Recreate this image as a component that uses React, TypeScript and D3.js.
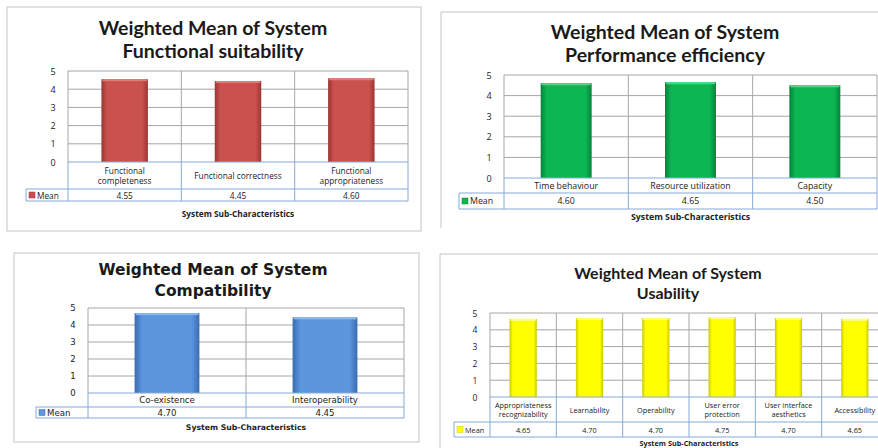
import React from "react";
import * as d3 from "d3";

const W = 878;
const H = 448;

// data
const funcCategories = ["Functional\ncompleteness", "Functional correctness", "Functional\nappropriateness"];
const funcValues = [4.55, 4.45, 4.6];
const funcLabels = ["4.55", "4.45", "4.60"];

const perfCategories = ["Time behaviour", "Resource utilization", "Capacity"];
const perfValues = [4.6, 4.65, 4.5];
const perfLabels = ["4.60", "4.65", "4.50"];

const compCategories = ["Co-existence", "Interoperability"];
const compValues = [4.7, 4.45];
const compLabels = ["4.70", "4.45"];

const usabCategories = [
  "Appropriateness\nrecognizability",
  "Learnability",
  "Operability",
  "User error\nprotection",
  "User interface\naesthetics",
  "Accessibility"
];
const usabValues = [4.65, 4.7, 4.7, 4.75, 4.7, 4.65];
const usabLabels = ["4.65", "4.70", "4.70", "4.75", "4.70", "4.65"];

const yTicks = [0, 1, 2, 3, 4, 5];

const TITLE_FONT = "Lato, 'Open Sans', sans-serif";
const FONT = "'Open Sans', Lato, sans-serif";
const WIDE_FONT = "'DejaVu Sans', 'Open Sans', sans-serif";
const tableBlue = "#86aad8";
const gridGray = "#a6a6a6";

type PanelProps = {
  id: string;
  frame: { x: number; y: number; w: number; h: number; full: boolean };
  title: string[];
  titleX: number;
  titleY: number[];
  titleSize: number;
  titleFont?: string;
  textFont?: string;
  plot: { l: number; r: number; t: number; b: number };
  catRowB: number;
  meanRowB: number;
  legendL: number;
  subY: number;
  catFont: number;
  tickFont: number;
  categories: string[];
  values: number[];
  labels: string[];
  color: string;
  dark: string;
  light: string;
};

function Panel(p: PanelProps) {
  const { plot } = p;
  const font = p.textFont || FONT;
  const x = d3.scaleBand<string>().domain(p.categories).range([plot.l, plot.r]);
  const y = d3.scaleLinear().domain([0, 5]).range([plot.b, plot.t]);
  const bw = x.bandwidth() * 0.41;
  const catMid = (plot.b + p.catRowB) / 2;
  const meanMid = (p.catRowB + p.meanRowB) / 2;
  const bounds = p.categories.map(c => x(c) as number).concat([plot.r]);

  return (
    <g>
      <defs>
        <linearGradient id={`g-${p.id}`} x1="0" x2="1" y1="0" y2="0">
          <stop offset="0" stopColor={p.dark} />
          <stop offset="0.12" stopColor={p.color} />
          <stop offset="0.88" stopColor={p.color} />
          <stop offset="1" stopColor={p.dark} />
        </linearGradient>
      </defs>
      {p.frame.full ? (
        <rect x={p.frame.x} y={p.frame.y} width={p.frame.w} height={p.frame.h} fill="#fff" stroke="#c4c4c4" />
      ) : (
        <path
          d={`M${p.frame.x},${p.frame.y + p.frame.h}V${p.frame.y}H${W + 5}`}
          fill="none"
          stroke="#c4c4c4"
        />
      )}
      {p.title.map((t, i) => (
        <text
          key={t}
          x={p.titleX}
          y={p.titleY[i]}
          textAnchor="middle"
          dominantBaseline="central"
          fontFamily={p.titleFont || TITLE_FONT}
          fontWeight="bold"
          fontSize={p.titleSize}
          fill="#1a1a1a"
        >
          {t}
        </text>
      ))}
      {/* grid */}
      {yTicks.slice(1).map(t => (
        <line key={t} x1={plot.l} x2={plot.r} y1={y(t)} y2={y(t)} stroke={gridGray} />
      ))}
      {bounds.map((b, i) => (
        <line key={i} x1={b} x2={b} y1={plot.t} y2={plot.b} stroke={gridGray} />
      ))}
      {yTicks.map(t => (
        <text
          key={t}
          x={plot.l - 15}
          y={y(t)}
          textAnchor="middle"
          dominantBaseline="central"
          fontFamily={font}
          fontSize={p.tickFont}
          fill="#222"
        >
          {t}
        </text>
      ))}
      {/* bars */}
      {p.categories.map((c, i) => {
        const bx = (x(c) as number) + (x.bandwidth() - bw) / 2;
        const by = y(p.values[i]);
        return (
          <g key={c}>
            <rect x={bx} y={by} width={bw} height={plot.b - by} fill={`url(#g-${p.id})`} />
            <rect x={bx + 1} y={by} width={bw - 2} height={2} fill={p.light} />
          </g>
        );
      })}
      {/* data table */}
      <line x1={plot.l} x2={plot.r} y1={plot.b} y2={plot.b} stroke={tableBlue} />
      <line x1={p.legendL} x2={plot.r} y1={p.catRowB} y2={p.catRowB} stroke={tableBlue} />
      <line x1={p.legendL} x2={plot.r} y1={p.meanRowB} y2={p.meanRowB} stroke={tableBlue} />
      <line x1={p.legendL} x2={p.legendL} y1={p.catRowB} y2={p.meanRowB} stroke={tableBlue} />
      {bounds.map((b, i) => (
        <line key={i} x1={b} x2={b} y1={plot.b} y2={p.meanRowB} stroke={tableBlue} />
      ))}
      <rect x={p.legendL + 3} y={meanMid - 3} width={6} height={6} fill={p.color} stroke={p.dark} strokeWidth={0.5} />
      <text
        x={p.legendL + 11}
        y={meanMid}
        dominantBaseline="central"
        fontFamily={font}
        fontSize={p.catFont}
        fill="#222"
      >
        Mean
      </text>
      {p.categories.map((c, i) => {
        const cx = (x(c) as number) + x.bandwidth() / 2;
        const lines = c.split("\n");
        const lh = p.catFont * 1.3;
        return (
          <g key={c}>
            {lines.map((ln, j) => (
              <text
                key={j}
                x={cx}
                y={catMid + (j - (lines.length - 1) / 2) * lh}
                textAnchor="middle"
                dominantBaseline="central"
                fontFamily={font}
                fontSize={p.catFont}
                fill="#222"
              >
                {ln}
              </text>
            ))}
            <text
              x={cx}
              y={meanMid}
              textAnchor="middle"
              dominantBaseline="central"
              fontFamily={font}
              fontSize={p.catFont}
              fill="#222"
            >
              {p.labels[i]}
            </text>
          </g>
        );
      })}
      <text
        x={(plot.l + plot.r) / 2}
        y={p.subY}
        textAnchor="middle"
        dominantBaseline="central"
        fontFamily={font}
        fontWeight="bold"
        fontSize={p.catFont * (p.textFont ? 0.9 : 1)}
        fill="#222"
      >
        System Sub-Characteristics
      </text>
    </g>
  );
}

export default function App() {
  return (
    <div style={{ position: "absolute", left: 0, top: 0 }}>
      <svg width={W} height={H} style={{ display: "block", background: "#fff" }}>
        <Panel
          id="func"
          frame={{ x: 7, y: 7, w: 414, h: 224, full: true }}
          title={["Weighted Mean of System", "Functional suitability"]}
          titleX={213}
          titleY={[27, 50]}
          titleSize={19.5}
          plot={{ l: 68, r: 408, t: 71, b: 162 }}
          catRowB={189}
          meanRowB={201}
          legendL={26}
          subY={213}
          catFont={8.3}
          tickFont={9}
          categories={funcCategories}
          values={funcValues}
          labels={funcLabels}
          color="#c9514e"
          dark="#9a3532"
          light="#e07c78"
        />
        <Panel
          id="perf"
          frame={{ x: 441, y: 12, w: 440, h: 216, full: false }}
          title={["Weighted Mean of System", "Performance efficiency"]}
          titleX={665}
          titleY={[31, 54]}
          titleSize={19.5}
          plot={{ l: 504, r: 877, t: 75, b: 178 }}
          catRowB={193}
          meanRowB={209}
          legendL={459}
          subY={217}
          catFont={8.8}
          tickFont={9}
          categories={perfCategories}
          values={perfValues}
          labels={perfLabels}
          color="#0bb653"
          dark="#06833b"
          light="#4fd888"
        />
        <Panel
          id="comp"
          frame={{ x: 14, y: 253, w: 405, h: 189, full: true }}
          title={["Weighted Mean of System", "Compatibility"]}
          titleX={213}
          titleY={[270, 291]}
          titleSize={15.5}
          titleFont={WIDE_FONT}
          textFont={WIDE_FONT}
          plot={{ l: 88, r: 404, t: 308, b: 393 }}
          catRowB={407}
          meanRowB={418}
          legendL={36}
          subY={427}
          catFont={8.6}
          tickFont={8.5}
          categories={compCategories}
          values={compValues}
          labels={compLabels}
          color="#5b96de"
          dark="#3a6bb0"
          light="#8ab8ee"
        />
        <Panel
          id="usab"
          frame={{ x: 440, y: 254, w: 440, h: 200, full: false }}
          title={["Weighted Mean of System", "Usability"]}
          titleX={668}
          titleY={[272, 292]}
          titleSize={16}
          plot={{ l: 490, r: 888, t: 313, b: 397 }}
          catRowB={422}
          meanRowB={437}
          legendL={454}
          subY={443}
          catFont={7.3}
          tickFont={8.5}
          categories={usabCategories}
          values={usabValues}
          labels={usabLabels}
          color="#ffff00"
          dark="#c9c900"
          light="#ffff80"
        />
      </svg>
    </div>
  );
}
